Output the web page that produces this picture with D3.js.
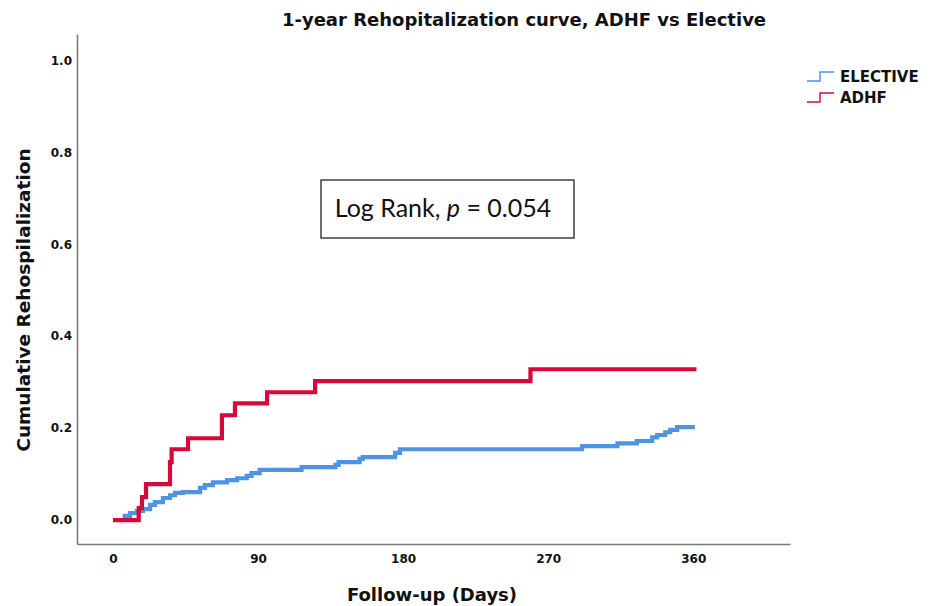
<!DOCTYPE html>
<html>
<head>
<meta charset="utf-8">
<script src="https://cdn.jsdelivr.net/npm/d3@7"></script>
<style>
  body { margin: 0; background: #fff; }
</style>
</head>
<body>
<div id="chart"></div>
<script>
// Kaplan-Meier style cumulative event curves
const adhfDays   = [0, 16, 18, 20.5, 35.4, 36.4, 46.6, 67.6, 75.7, 95.6, 125.4, 259, 362];
const adhfValues = [0, 0.026, 0.05, 0.078, 0.126, 0.154, 0.178, 0.228, 0.254, 0.278, 0.302, 0.328, 0.328];

const electiveDays   = [6, 10.6, 14.9, 18.6, 23, 26, 31, 35.4, 38.5, 43.4, 54, 57, 62, 70.8, 77, 83, 86, 91,
                        117, 138, 140, 153, 155, 175, 178, 291, 313, 325, 334.5, 337.6, 342.6, 345.7, 350, 361];
const electiveValues = [0.009, 0.015, 0.02, 0.024, 0.033, 0.039, 0.048, 0.054, 0.059, 0.061, 0.07, 0.076, 0.082, 0.087, 0.091, 0.096, 0.102, 0.109,
                        0.115, 0.12, 0.126, 0.133, 0.137, 0.146, 0.154, 0.161, 0.167, 0.172, 0.18, 0.185, 0.191, 0.196, 0.202, 0.202];

const xTicks = [0, 90, 180, 270, 360];
const yTicks = [0, 0.2, 0.4, 0.6, 0.8, 1.0];

const seriesNames = ["ELECTIVE", "ADHF"];
const seriesColors = ["#4f94e3", "#d60a3a"];

const width = 930, height = 606;

const svg = d3.select("#chart").append("svg")
    .attr("width", width)
    .attr("height", height)
    .attr("font-family", "DejaVu Sans, sans-serif");

const x = d3.scaleLinear().domain([-22.3, 420]).range([77, 790]);
const y = d3.scaleLinear().domain([-0.052, 1.057]).range([544, 34]);

// axes, no tick marks
const xAxis = svg.append("g")
    .attr("transform", `translate(0,${y.range()[0]})`)
    .call(d3.axisBottom(x).tickValues(xTicks).tickSize(0).tickPadding(10));
const yAxis = svg.append("g")
    .attr("transform", `translate(${x.range()[0]},0)`)
    .call(d3.axisLeft(y).tickValues(yTicks).tickFormat(d3.format(".1f")).tickSize(0).tickPadding(5));

[xAxis, yAxis].forEach(g => {
  g.attr("font-family", null);
  g.select(".domain").attr("stroke", "#7a7a7a").attr("stroke-width", 1.6);
  g.selectAll(".tick text")
      .attr("font-weight", "bold")
      .attr("font-size", 12)
      .attr("fill", "#111");
});

const line = d3.line()
    .curve(d3.curveStepAfter)
    .x(d => x(d[0]))
    .y(d => y(d[1]));

const series = [
  d3.zip(electiveDays, electiveValues),
  d3.zip(adhfDays, adhfValues)
];

svg.selectAll("path.curve")
  .data(series)
  .join("path")
    .attr("class", "curve")
    .attr("fill", "none")
    .attr("stroke", (d, i) => seriesColors[i])
    .attr("stroke-width", 4.2)
    .attr("stroke-linejoin", "miter")
    .attr("d", line);

// title and axis labels
svg.append("text")
    .attr("x", 524).attr("y", 26)
    .attr("text-anchor", "middle")
    .attr("font-weight", "bold")
    .attr("font-size", 18)
    .attr("fill", "#111")
    .text("1-year Rehopitalization curve, ADHF vs Elective");

svg.append("text")
    .attr("x", 432).attr("y", 601)
    .attr("text-anchor", "middle")
    .attr("font-weight", "bold")
    .attr("font-size", 18)
    .attr("fill", "#111")
    .text("Follow-up (Days)");

svg.append("text")
    .attr("transform", "translate(30,300) rotate(-90)")
    .attr("text-anchor", "middle")
    .attr("font-weight", "bold")
    .attr("font-size", 18.5)
    .attr("fill", "#111")
    .text("Cumulative Rehospilalization");

// legend with small step icons
const legend = svg.append("g").attr("transform", "translate(807,81)");
seriesNames.forEach((name, i) => {
  const g = legend.append("g").attr("transform", `translate(0,${i * 21})`);
  g.append("path")
      .attr("fill", "none")
      .attr("stroke", seriesColors[i])
      .attr("stroke-width", 1.5)
      .attr("d", "M0,0H13V-9H27");
  g.append("text")
      .attr("x", 33).attr("y", 1)
      .attr("font-weight", "bold")
      .attr("font-size", 15)
      .attr("fill", "#111")
      .text(name);
});

// log rank annotation box
svg.append("rect")
    .attr("x", 321).attr("y", 180)
    .attr("width", 253).attr("height", 58)
    .attr("fill", "#fff")
    .attr("stroke", "#222")
    .attr("stroke-width", 1.3);

const note = svg.append("text")
    .attr("x", 443).attr("y", 217)
    .attr("text-anchor", "middle")
    .style("font-family", "Lato, sans-serif")
    .attr("font-size", 25)
    .attr("fill", "#111");
note.append("tspan").text("Log Rank, ");
note.append("tspan").attr("font-style", "italic").text("p");
note.append("tspan").text(" = 0.054");
</script>
</body>
</html>
